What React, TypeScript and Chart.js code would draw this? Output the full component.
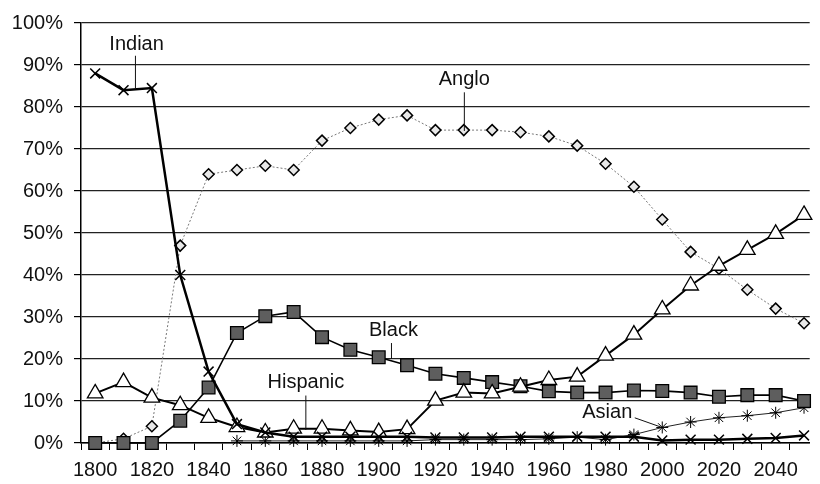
import React, { useEffect, useRef } from "react";
import { Chart, registerables } from "chart.js";
Chart.register(...registerables);

const years = [1800, 1810, 1820, 1830, 1840, 1850, 1860, 1870, 1880, 1890, 1900, 1910, 1920, 1930, 1940, 1950, 1960, 1970, 1980, 1990, 2000, 2010, 2020, 2030, 2040, 2050];

const indian = [88, 84, 84.5, 40, 17, 4.5, 2.5, 1.5, 1.5, 1.5, 1.5, 1.5, 1.3, 1.3, 1.3, 1.5, 1.5, 1.5, 1.5, 1.5, 0.6, 0.8, 0.8, 1, 1.2, 1.8];
const anglo = [0, 1, 4, 47, 64, 65, 66, 65, 72, 75, 77, 78, 74.5, 74.5, 74.5, 74, 73, 70.8, 66.5, 61, 53.2, 45.5, 41.5, 36.5, 32, 28.5];
const black = [0, 0, 0, 5.3, 13.2, 26.2, 30.2, 31.2, 25.2, 22.2, 20.4, 18.5, 16.5, 15.5, 14.5, 13.5, 12.3, 12, 12, 12.5, 12.4, 12, 11, 11.4, 11.4, 10];
const hispanic = [11.8, 14.5, 10.8, 9, 6, 3.8, 2.5, 3.4, 3.4, 3, 2.6, 3.3, 10.1, 12, 11.8, 13.4, 15, 15.8, 20.8, 25.8, 31.8, 37.5, 42.2, 46, 49.8, 54.3];
const asian: (number | null)[] = [null, null, null, null, null, 0.5, 0.5, 0.5, 0.5, 0.5, 0.5, 0.5, 0.8, 0.8, 0.8, 0.8, 1, 1.4, 0.8, 2, 3.7, 5, 6, 6.5, 7.2, 8.4];

const yTicks = [0, 10, 20, 30, 40, 50, 60, 70, 80, 90, 100];
const xLabelYears = [1800, 1820, 1840, 1860, 1880, 1900, 1920, 1940, 1960, 1980, 2000, 2020, 2040];

// series name annotations (in data space)
const labelTexts = ["Indian", "Anglo", "Black", "Hispanic", "Asian"];
const labelYears = [1814.6, 1930.2, 1905.2, 1874.3, 1980.6];
const labelPcts = [94.8, 86.6, 26.8, 14.4, 7.2];
const leaderFromYears = [1814.2, 1930.2, 1904.5, 1874.3, 1990.3];
const leaderFromPcts = [92.2, 83.5, 23.8, 11.3, 6.0];
const leaderToYears = [1814.2, 1930.2, 1904.5, 1874.3, 1999.5];
const leaderToPcts = [84.4, 74.3, 20.0, 3.1, 3.8];

const FONT = "'Liberation Sans', Arial, Helvetica, sans-serif";

export default function App() {
  const ref = useRef<HTMLCanvasElement>(null);
  useEffect(() => {
    const canvas = ref.current!;
    const mk = (ys: (number | null)[]) => years.map((x, i) => ({ x, y: ys[i] }));

    const labelPlugin = {
      id: "seriesLabels",
      afterDatasetsDraw(chart: any) {
        const { ctx, scales } = chart;
        const xs = scales.x;
        const ys = scales.y;
        ctx.save();
        ctx.fillStyle = "#111";
        ctx.font = `20px ${FONT}`;
        ctx.textAlign = "center";
        ctx.textBaseline = "middle";
        labelTexts.forEach((t, i) => {
          ctx.fillText(t, xs.getPixelForValue(labelYears[i]), ys.getPixelForValue(labelPcts[i]));
          ctx.beginPath();
          ctx.strokeStyle = "#111";
          ctx.lineWidth = 1;
          ctx.moveTo(xs.getPixelForValue(leaderFromYears[i]), ys.getPixelForValue(leaderFromPcts[i]));
          ctx.lineTo(xs.getPixelForValue(leaderToYears[i]), ys.getPixelForValue(leaderToPcts[i]));
          ctx.stroke();
        });
        ctx.restore();
      },
    };

    const chart = new Chart(canvas, {
      type: "line",
      data: {
        datasets: [
          {
            label: "Indian",
            data: mk(indian),
            borderColor: "#000",
            borderWidth: 2.5,
            pointStyle: "crossRot",
            pointRadius: 7,
            pointBorderColor: "#000",
            pointBorderWidth: 1.5,
            pointBackgroundColor: "#000",
          },
          {
            label: "Hispanic",
            data: mk(hispanic),
            borderColor: "#000",
            borderWidth: 2,
            pointStyle: "triangle",
            pointRadius: 9,
            pointBorderColor: "#000",
            pointBorderWidth: 1.3,
            pointBackgroundColor: "#fff",
          },
          {
            label: "Black",
            data: mk(black),
            borderColor: "#000",
            borderWidth: 1.6,
            pointStyle: "rect",
            pointRadius: 9,
            pointBorderColor: "#000",
            pointBorderWidth: 1.3,
            pointBackgroundColor: "#5e5e5e",
          },
          {
            label: "Anglo",
            data: mk(anglo),
            borderColor: "#777",
            borderWidth: 1,
            borderDash: [2, 2],
            pointStyle: "rectRot",
            pointRadius: 5.5,
            pointBorderColor: "#000",
            pointBorderWidth: 1.5,
            pointBackgroundColor: "#e8e8e8",
          },
          {
            label: "Asian",
            data: mk(asian),
            borderColor: "#222",
            borderWidth: 1,
            pointStyle: "star",
            pointRadius: 6,
            pointBorderColor: "#000",
            pointBorderWidth: 1,
          },
        ],
      },
      options: {
        responsive: false,
        animation: false,
        devicePixelRatio: 1,
        layout: { padding: { top: 20, left: 0, right: 0, bottom: 0 } },
        datasets: { line: { clip: false as any, tension: 0 } },
        plugins: { legend: { display: false }, tooltip: { enabled: false } },
        scales: {
          x: {
            type: "linear",
            min: 1795,
            max: 2052,
            afterFit: (s: any) => {
              s.height = 41;
            },
            afterBuildTicks: (s: any) => {
              const t = [];
              for (let v = 1795; v <= 2050; v += 5) t.push({ value: v });
              s.ticks = t;
            },
            ticks: {
              autoSkip: false,
              maxRotation: 0,
              minRotation: 0,
              padding: 8,
              color: "#111",
              font: { family: FONT, size: 20 },
              callback: (v: any) => (xLabelYears.includes(Math.round(v)) ? String(Math.round(v)) : ""),
            },
            grid: {
              drawOnChartArea: false,
              tickLength: 7,
              color: (c: any) => (c.tick && Math.round(c.tick.value) % 10 === 5 ? "#000" : "rgba(0,0,0,0)"),
            },
            border: { display: true, color: "#000", width: 1.5 },
          },
          y: {
            type: "linear",
            min: 0,
            max: 100,
            afterFit: (s: any) => {
              s.width = 81;
            },
            afterBuildTicks: (s: any) => {
              s.ticks = yTicks.map((v) => ({ value: v }));
            },
            ticks: {
              padding: 11,
              color: "#111",
              font: { family: FONT, size: 20 },
              callback: (v: any) => `${v}%`,
            },
            grid: { color: "#222", lineWidth: 1.2, tickLength: 7, tickColor: "#000" },
            border: { display: true, color: "#000", width: 1.5 },
          },
        },
      },
      plugins: [labelPlugin],
    });
    return () => chart.destroy();
  }, []);
  return (
    <div style={{ position: "fixed", left: 0, top: 0, width: 820, height: 484, background: "#fff" }}>
      <canvas ref={ref} width={820} height={484} style={{ width: 820, height: 484, display: "block" }} />
    </div>
  );
}
